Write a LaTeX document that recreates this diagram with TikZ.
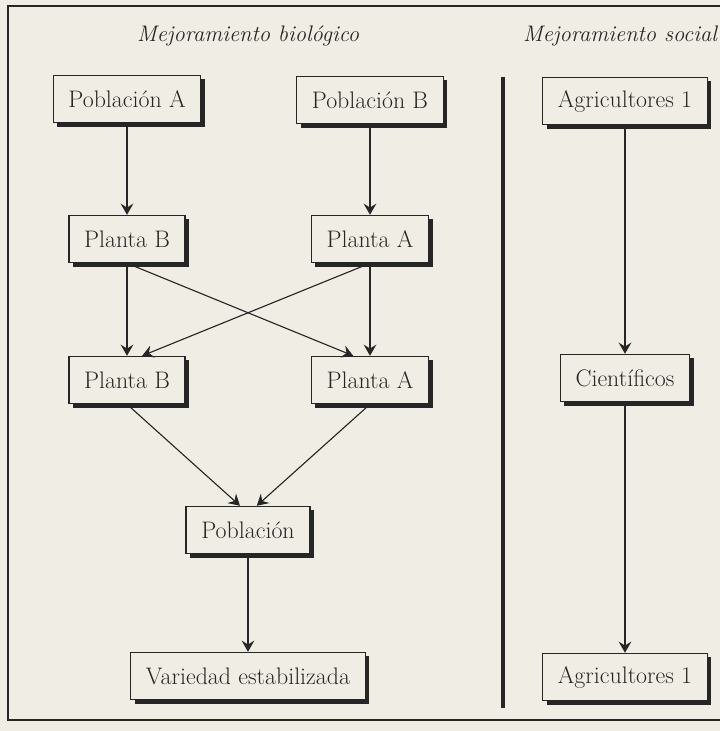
\documentclass[tikz,border=0pt]{standalone}
\usepackage{tikz}
\usetikzlibrary{arrows.meta,shadows}
\definecolor{papel}{HTML}{F0EEE4}
\definecolor{tinta}{HTML}{262626}
\tikzset{>={Stealth[length=2.8mm,width=3.2mm,inset=1mm]},caja/.style={draw=tinta,line width=.9pt,fill=papel,inner xsep=.38cm,minimum height=1.18cm,font=\fontsize{17}{20}\selectfont,text=tinta,drop shadow={shadow xshift=1mm,shadow yshift=-1mm,fill=tinta,opacity=1}},flecha/.style={->,tinta,line width=.8pt},titulo/.style={font=\fontsize{16}{19}\selectfont\itshape,text=tinta}}

\begin{document}
\begin{tikzpicture}[x=.025cm,y=-.025cm]
\fill[papel] (0,0) rectangle (720,731);
\useasboundingbox (0,0) rectangle (720,731);
\draw[tinta,line width=1.1pt] (724,6) -- (8,6) -- (8,720) -- (724,720);
\node[titulo] (tbio) at (248,36) {Mejoramiento biológico};
\node[titulo] (tsoc) at (620,36) {Mejoramiento social};
% mejoramiento biologico
\node[caja] (pobA) at (127,99) {Población A};
\node[caja] (pobB) at (370,100) {Población B};
\node[caja] (plB1) at (127,239) {Planta B};
\node[caja] (plA1) at (370,239) {Planta A};
\node[caja] (plB2) at (127,380) {Planta B};
\node[caja] (plA2) at (370,380) {Planta A};
\node[caja] (pob) at (248,530) {Población};
\node[caja] (var) at (248,676) {Variedad estabilizada};
\draw[flecha] (pobA) -- (plB1);
\draw[flecha] (pobB) -- (plA1);
\draw[flecha] (plB1) -- (plB2);
\draw[flecha] (plA1) -- (plA2);
\draw[flecha] (plB1.south) -- ([xshift=-4.2mm]plA2.north);
\draw[flecha] (plA1.south) -- ([xshift=3.8mm]plB2.north);
\draw[flecha] (plB2.south) -- ([xshift=-2mm]pob.north);
\draw[flecha] (plA2.south) -- ([xshift=2.2mm]pob.north);
\draw[flecha] (pob) -- (var);
% mejoramiento social
\draw[tinta,line width=1mm] (503,77) -- (503,708);
\node[caja] (agr1) at (625,101) {Agricultores 1};
\node[caja] (cient) at (625,378) {Científicos};
\node[caja] (agr2) at (625,677) {Agricultores 1};
\draw[flecha] (agr1) -- (cient);
\draw[flecha] (cient) -- (agr2);
\end{tikzpicture}
\end{document}
